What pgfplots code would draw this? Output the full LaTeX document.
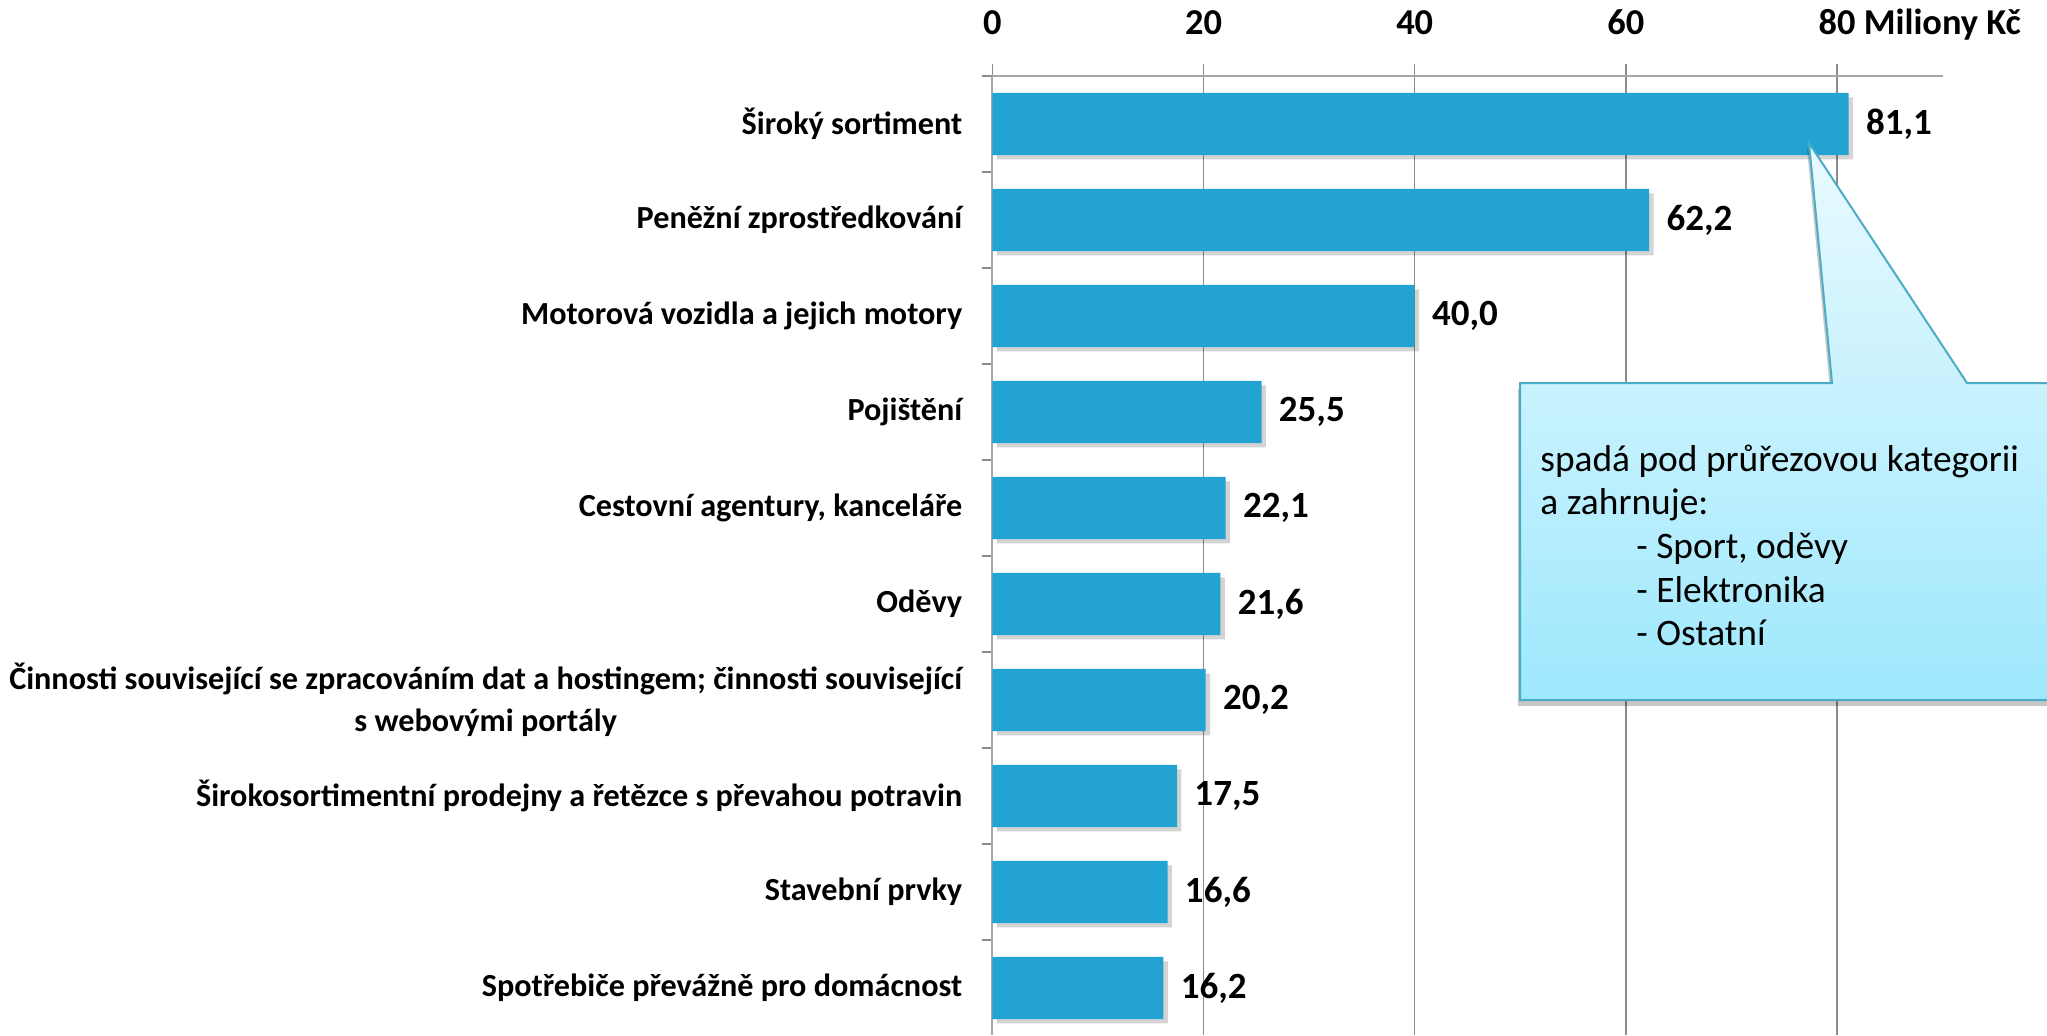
\documentclass[border=0pt]{standalone}
\usepackage{fontspec}
\setmainfont{Carlito}
\usepackage{pgfplots}
\usepackage{pgfplotstable}
\pgfplotsset{compat=1.18}
\usetikzlibrary{shadows}
\definecolor{barblue}{HTML}{22A3D1}
\definecolor{gridgray}{HTML}{8C8C8C}
\definecolor{axgray}{HTML}{A6A6A6}
\definecolor{callborder}{HTML}{4BACC6}
\definecolor{calltop}{HTML}{EAFAFF}
\definecolor{callbot}{HTML}{9EE8FD}

\pgfplotstableread{
y val lab
9 81.1 81,1
8 62.2 62,2
7 40.0 40,0
6 25.5 25,5
5 22.1 22,1
4 21.6 21,6
3 20.2 20,2
2 17.5 17,5
1 16.6 16,6
0 16.2 16,2
}\datatable

\begin{document}
\begin{tikzpicture}
\begin{axis}[
  at={(496.15pt,-38pt)}, anchor=north west,
  scale only axis,
  x=5.28pt, y=48pt,
  xmin=0, xmax=90, ymin=-0.49, ymax=9.5,
  axis x line=top, axis y line=left,
  axis line style={-, draw=axgray, line width=0.8pt},
  xtick={0,20,40,60,80},
  xticklabels={0,20,40,60,{80\rlap{\ Miliony Kč}}},
  xticklabel style={font=\bfseries\fontsize{18.2}{20}\selectfont, text=black,
    anchor=south, inner sep=0pt, text depth=0pt, yshift=14.5pt},
  ytick={0,...,9},
  yticklabels={
    Spotřebiče převážně pro domácnost,
    Stavební prvky,
    Širokosortimentní prodejny a řetězce s převahou potravin,
    {Činnosti související se zpracováním dat a hostingem; činnosti související\\ s webovými portály},
    Oděvy,
    {Cestovní agentury, kanceláře},
    Pojištění,
    Motorová vozidla a jejich motory,
    Peněžní zprostředkování,
    Široký sortiment},
  yticklabel style={font=\bfseries\fontsize{16.1}{21}\selectfont, align=center, text=black, xshift=-5.5pt},
  minor ytick={0.5,1.5,...,9.5},
  tick align=outside,
  major tick length=6pt,
  minor tick length=5pt,
  major y tick style={draw=none},
  tick style={draw=gridgray, line width=0.65pt},
  xmajorgrids,
  grid style={draw=gridgray, line width=0.65pt},
  clip=false,
]
\addplot[xbar, bar width=0.646, fill=barblue, draw=none,
  drop shadow={shadow xshift=2.2pt, shadow yshift=-2.2pt, fill=black, opacity=0.17},
  point meta=explicit symbolic,
  nodes near coords,
  nodes near coords style={anchor=west, inner sep=0pt, xshift=8.5pt,
    font=\bfseries\fontsize{18.5}{20}\selectfont, text=black}]
  table[x=val, y=y, meta=lab] {\datatable};
\end{axis}
\begin{scope}[x=0.5pt, y=-0.5pt]
\draw[callborder, line width=1pt, top color=calltop, bottom color=callbot,
  drop shadow={shadow xshift=-1pt, shadow yshift=-3pt, fill=black, opacity=0.22}]
  (1520,383) -- (1832,383) -- (1809,143) -- (1967,383) -- (2060,383)
  -- (2060,700) -- (1520,700) -- cycle;
\begin{scope}[every node/.style={anchor=base west, inner sep=0pt, font=\fontsize{18.7}{22}\selectfont}]
\node at (1540,471) {spadá pod průřezovou kategorii};
\node at (1540,514) {a zahrnuje:};
\node at (1636,558) {- Sport, oděvy};
\node at (1636,602) {- Elektronika};
\node at (1636,645) {- Ostatní};
\end{scope}
\pgfresetboundingbox
\useasboundingbox (0,0) rectangle (2047,1035);
\end{scope}
\end{tikzpicture}
\end{document}
